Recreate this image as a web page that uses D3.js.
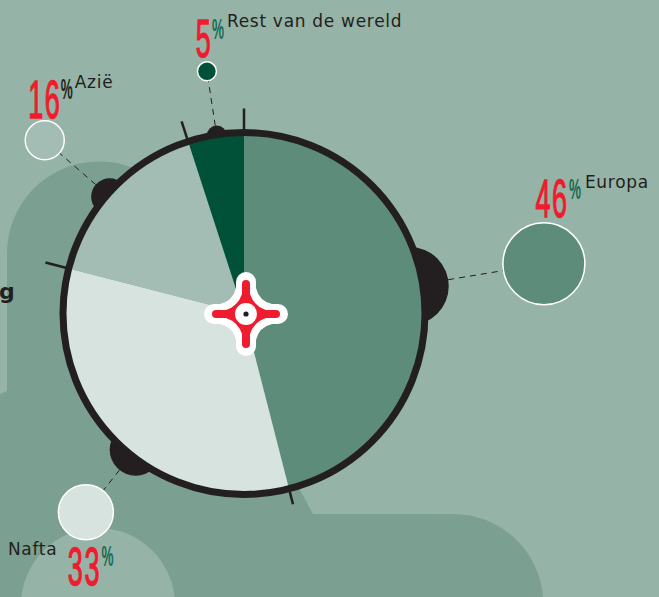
<!DOCTYPE html>
<html>
<head>
<meta charset="utf-8">
<script src="https://cdn.jsdelivr.net/npm/d3@7"></script>
<style>
  html, body { margin: 0; padding: 0; background: #95b3a6; overflow: hidden; }
  svg { display: block; }
  .name { font-family: "DejaVu Sans", sans-serif; font-size: 17px; fill: #231f20; letter-spacing: .7px; }
  .num { font-family: "Liberation Sans", sans-serif; fill: #ee1c2e; letter-spacing: 3px; }
  .pct { font-family: "Liberation Sans", sans-serif; font-weight: bold; }
</style>
</head>
<body>
<svg width="659" height="597"></svg>
<script>
// data
const regions = ["Europa", "Nafta", "Azië", "Rest van de wereld"];
const shares = [46, 33, 16, 5];
const sliceColors = ["#5d8d7a", "#d7e3df", "#a3bdb4", "#005138"];
const pctColors = ["#1a6b54", "#1a6b54", "#231f20", "#1a6b54"];

// how the callouts sit round the pie
const bubbleAngle = [80.6, 218.5, 311, 351.3];
const bubbleDist = [304, 254, 264, 245];
const bumpDist = [168, 174, 178, 180];
const tickOuter = [205, 197, 205, 202];
const numAt = [[8, -47], [-1.5, 73], [0, -22.5], [-3, -14]];
const pctAt = [[31, -64.5], [21.5, 54], [22, -41], [11, -32]];
const nameAt = [[41, -76], [-78, 43], [30, -52], [20, -44]];

const svg = d3.select("svg");
const cx = 244, cy = 313.5, R = 181;

const bubbleR = d3.scaleLinear().domain([5, 16, 33, 46]).range([9.5, 19.5, 27.5, 41]);
const bumpR = d3.scaleLinear().domain([5, 16, 33, 46]).range([10, 18.5, 26, 39]);

// background shapes
svg.append("path")
  .attr("fill", "#7b9f90")
  .attr("d", "M0,394 L7,391 L7,252 A92,92 0 0 1 190,240 L300,490 L313,514 L453,514 A90,90 0 0 1 543,597 L0,597 Z");
svg.append("circle").attr("cx", 98).attr("cy", 605).attr("r", 77).attr("fill", "#95b3a6");

// cut off title letter on the left edge
svg.append("text").attr("x", -1).attr("y", 299).text("g")
  .attr("font-family", "DejaVu Sans").attr("font-size", 22).attr("font-weight", "bold").attr("fill", "#231f20");

const pie = d3.pie().sort(null).value(d => d)(shares);
const rad = d => d * Math.PI / 180;
const g = svg.append("g").attr("transform", `translate(${cx},${cy})`);

// dashed leaders
g.selectAll(".leader").data(pie).join("line")
  .attr("class", "leader")
  .attr("x1", (d, i) => d3.pointRadial(rad(bubbleAngle[i]), bumpDist[i] + bumpR(d.value))[0])
  .attr("y1", (d, i) => d3.pointRadial(rad(bubbleAngle[i]), bumpDist[i] + bumpR(d.value))[1])
  .attr("x2", (d, i) => d3.pointRadial(rad(bubbleAngle[i]), bubbleDist[i] - bubbleR(d.value))[0])
  .attr("y2", (d, i) => d3.pointRadial(rad(bubbleAngle[i]), bubbleDist[i] - bubbleR(d.value))[1])
  .attr("stroke", "#231f20").attr("stroke-width", 1).attr("stroke-dasharray", "6 5");

// bumps behind the ring
g.selectAll(".bump").data(pie).join("circle")
  .attr("class", "bump")
  .attr("cx", (d, i) => d3.pointRadial(rad(bubbleAngle[i]), bumpDist[i])[0])
  .attr("cy", (d, i) => d3.pointRadial(rad(bubbleAngle[i]), bumpDist[i])[1])
  .attr("r", d => bumpR(d.value))
  .attr("fill", "#231f20");

// ticks on slice boundaries
g.selectAll(".tick").data(pie).join("line")
  .attr("class", "tick")
  .attr("x1", d => d3.pointRadial(d.startAngle, R)[0])
  .attr("y1", d => d3.pointRadial(d.startAngle, R)[1])
  .attr("x2", (d, i) => d3.pointRadial(d.startAngle, tickOuter[i])[0])
  .attr("y2", (d, i) => d3.pointRadial(d.startAngle, tickOuter[i])[1])
  .attr("stroke", "#231f20").attr("stroke-width", 2.5);

// slices
const arc = d3.arc().innerRadius(0).outerRadius(R);
g.selectAll(".slice").data(pie).join("path")
  .attr("class", "slice")
  .attr("d", arc)
  .attr("fill", (d, i) => sliceColors[i]);

g.append("circle").attr("r", R).attr("fill", "none").attr("stroke", "#231f20").attr("stroke-width", 7);

// bubbles
const bubbles = svg.append("g").attr("transform", `translate(${cx},${cy})`);
const node = bubbles.selectAll(".callout").data(pie).join("g")
  .attr("class", "callout")
  .attr("transform", (d, i) => `translate(${d3.pointRadial(rad(bubbleAngle[i]), bubbleDist[i])})`);

node.append("circle")
  .attr("r", d => bubbleR(d.value))
  .attr("fill", (d, i) => sliceColors[i])
  .attr("stroke", "#fff").attr("stroke-width", 1.5);

node.append("text").attr("class", "num")
  .attr("text-anchor", "middle")
  .attr("font-size", 54)
  .attr("stroke", "#ee1c2e").attr("stroke-width", 1.4)
  .attr("transform", (d, i) => `translate(${numAt[i]}) scale(.5,1)`)
  .text(d => d.value);

node.append("text").attr("class", "pct")
  .attr("text-anchor", "middle")
  .attr("font-size", 30)
  .attr("fill", (d, i) => pctColors[i])
  .attr("transform", (d, i) => `translate(${pctAt[i]}) scale(.45,1)`)
  .text("%");

node.append("text").attr("class", "name")
  .attr("x", (d, i) => nameAt[i][0])
  .attr("y", (d, i) => nameAt[i][1])
  .text((d, i) => regions[i]);

// centre marker, straight arms with round tips and filled corners
function star(len, half, neck, c) {
  let p = "";
  [0, 1, 2, 3].forEach(k => {
    const rot = ([x, y]) => {
      const a = k * Math.PI / 2;
      return [x * Math.cos(a) - y * Math.sin(a), x * Math.sin(a) + y * Math.cos(a)];
    };
    const a = rot([-half, -len]), b = rot([half, -len]), n = rot([half, -neck]), q = rot([c, -c]), m = rot([neck, -half]), e = rot([len, -half]);
    p += (k ? "L" : "M") + a + "A" + half + "," + half + " 0 0 1 " + b + "L" + n + "Q" + q + " " + m + "L" + e;
  });
  return p + "Z";
}
const mark = svg.append("g").attr("transform", "translate(246,314)");
mark.append("path").attr("d", star(32, 10, 26, 13)).attr("fill", "#fff");
mark.append("path").attr("d", star(30, 4, 20, 8)).attr("fill", "#ee1c2e");
mark.append("circle").attr("r", 11).attr("fill", "#fff");
mark.append("circle").attr("r", 2.6).attr("fill", "#231f20");
</script>
</body>
</html>
